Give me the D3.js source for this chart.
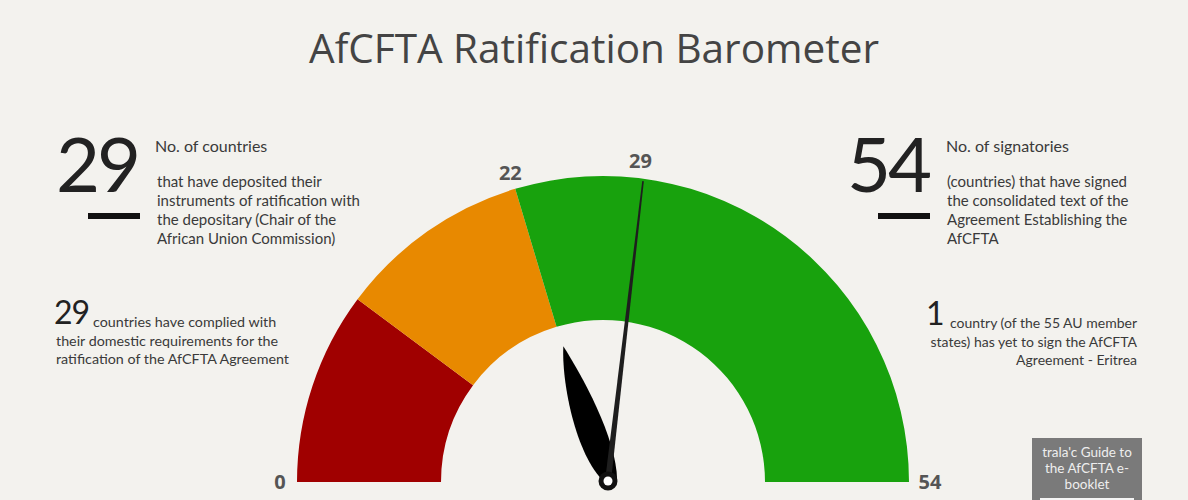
<!DOCTYPE html>
<html><head><meta charset="utf-8">
<script src="https://cdn.jsdelivr.net/npm/d3@7"></script>
<style>
html,body{margin:0;padding:0;background:#f3f2ee;}
svg{display:block;}
</style></head>
<body>
<svg id="chart" width="1188" height="500"></svg>
<script>
// ---- data ----
const title = "AfCFTA Ratification Barometer";
const bandStarts = [0, 11, 22];
const bandEnds = [11, 22, 54];
const bandColors = ["#a00000", "#e88900", "#18a20d"];
const tickValues = [0, 22, 29, 54];
const gaugeMin = 0, gaugeMax = 54;
const needleValue = 29;
const handValue = 21.5;
const ratified = 29, signatories = 54, complied = 29, notSigned = 1;
const leftTopLines = ["that have deposited their", "instruments of ratification with", "the depositary (Chair of the", "African Union Commission)"];
const rightTopLines = ["(countries) that have signed", "the consolidated text of the", "Agreement Establishing the", "AfCFTA"];
const leftBottomLines = ["countries have complied with", "their domestic requirements for the", "ratification of the AfCFTA Agreement"];
const rightBottomLines = ["country (of the 55 AU member", "states) has yet to sign the AfCFTA", "Agreement - Eritrea"];
const boxLines = ["trala'c Guide to", "the AfCFTA e-", "booklet"];

const svg = d3.select("#chart");
const body = "Lato, 'Open Sans', sans-serif";
const ink = "#3a3a3a";

// title
svg.append("text").attr("x", 594).attr("y", 63).attr("text-anchor", "middle")
  .attr("font-family", "'Open Sans', sans-serif").attr("font-size", 40.5).attr("fill", "#444")
  .text(title);

// gauge
const cx = 603, cy = 482, rIn = 162, rOut = 306;
const ang = d3.scaleLinear().domain([gaugeMin, gaugeMax]).range([-Math.PI / 2, Math.PI / 2]);
const g = svg.append("g").attr("transform", `translate(${cx},${cy})`);
const arc = d3.arc().innerRadius(rIn).outerRadius(rOut);
g.selectAll("path.band").data(bandStarts.map((s, i) => ({s, e: bandEnds[i], c: bandColors[i]})))
  .join("path").attr("class", "band")
  .attr("d", d => arc({startAngle: ang(d.s), endAngle: ang(d.e)}))
  .attr("fill", d => d.c);

// tick labels
const rLab = 323;
g.selectAll("text.tick").data(tickValues).join("text").attr("class", "tick")
  .attr("x", d => rLab * Math.sin(ang(d)) + (d === gaugeMax ? 4 : 0))
  .attr("y", d => -rLab * Math.cos(ang(d)) + 7)
  .attr("text-anchor", "middle")
  .attr("font-family", "'Open Sans', sans-serif").attr("font-weight", 700).attr("font-size", 20)
  .attr("fill", "#555").text(d => d);

// needle group (pivot)
const ng = svg.append("g").attr("transform", `translate(${cx + 5},${cy - 1})`);

// leaf-shaped hand
const hLen = 142;
const leaf = d3.path();
leaf.moveTo(0, 4);
leaf.bezierCurveTo(-22, -20, -16, -100, 0, -hLen);
leaf.bezierCurveTo(8, -110, 22, -40, 9, 2);
leaf.closePath();
ng.append("path").attr("d", leaf.toString()).attr("fill", "#000")
  .attr("transform", `rotate(${ang(handValue) * 180 / Math.PI})`);

// needle
const nLen = 302;
ng.append("path")
  .attr("d", `M-3,0 L-0.8,${-nLen} L0.8,${-nLen} L3,0 Z`)
  .attr("fill", "#1e1e1e")
  .attr("transform", `rotate(${ang(needleValue) * 180 / Math.PI})`);
ng.append("circle").attr("r", 9.5).attr("fill", "#111");
ng.append("circle").attr("r", 4.5).attr("fill", "#fff");

// left top block
svg.append("text").attr("x", 56).attr("y", 192).attr("font-family", body).attr("font-weight", 400)
  .attr("font-size", 76).attr("fill", "#222").attr("letter-spacing", -3).text(ratified);
svg.append("rect").attr("x", 88).attr("y", 213).attr("width", 52).attr("height", 6).attr("fill", "#111");
svg.append("text").attr("x", 155).attr("y", 152).attr("font-family", body).attr("font-size", 16)
  .attr("fill", ink).text("No. of countries");
svg.selectAll("text.lt").data(leftTopLines).join("text").attr("class", "lt")
  .attr("x", 157).attr("y", (d, i) => 187 + i * 19)
  .attr("font-family", body).attr("font-size", 15).attr("fill", ink).text(d => d);

// right top block
svg.append("text").attr("x", 847).attr("y", 192).attr("font-family", body).attr("font-weight", 400)
  .attr("font-size", 76).attr("fill", "#222").attr("letter-spacing", -3).text(signatories);
svg.append("rect").attr("x", 878).attr("y", 213).attr("width", 52).attr("height", 6).attr("fill", "#111");
svg.append("text").attr("x", 946).attr("y", 152).attr("font-family", body).attr("font-size", 16)
  .attr("fill", ink).text("No. of signatories");
svg.selectAll("text.rt").data(rightTopLines).join("text").attr("class", "rt")
  .attr("x", 947).attr("y", (d, i) => 187 + i * 19)
  .attr("font-family", body).attr("font-size", 15).attr("fill", ink).text(d => d);

// left bottom block
svg.append("text").attr("x", 54).attr("y", 324).attr("font-family", body).attr("font-weight", 400)
  .attr("font-size", 32).attr("fill", "#222").attr("letter-spacing", -1).text(complied);
svg.selectAll("text.lb").data(leftBottomLines).join("text").attr("class", "lb")
  .attr("x", (d, i) => i === 0 ? 93 : 56).attr("y", (d, i) => 327 + i * 18.5)
  .attr("font-family", body).attr("font-size", 14.3).attr("fill", ink).text(d => d);

// right bottom block
svg.append("text").attr("x", 926).attr("y", 325).attr("font-family", body).attr("font-weight", 400)
  .attr("font-size", 32).attr("fill", "#222").text(notSigned);
svg.selectAll("text.rb").data(rightBottomLines).join("text").attr("class", "rb")
  .attr("x", 1137).attr("y", (d, i) => 328 + i * 18.5).attr("text-anchor", "end")
  .attr("font-family", body).attr("font-size", 14).attr("fill", ink).text(d => d);

// e-booklet box
svg.append("rect").attr("x", 1032).attr("y", 438).attr("width", 110).attr("height", 70).attr("fill", "#7a7a7a");
svg.append("rect").attr("x", 1040).attr("y", 498).attr("width", 94).attr("height", 10).attr("fill", "#f4f4f4");
svg.selectAll("text.bx").data(boxLines).join("text").attr("class", "bx")
  .attr("x", 1087).attr("y", (d, i) => 457 + i * 16).attr("text-anchor", "middle")
  .attr("font-family", body).attr("font-size", 13.5).attr("fill", "#eee").text(d => d);
</script>
</body></html>
